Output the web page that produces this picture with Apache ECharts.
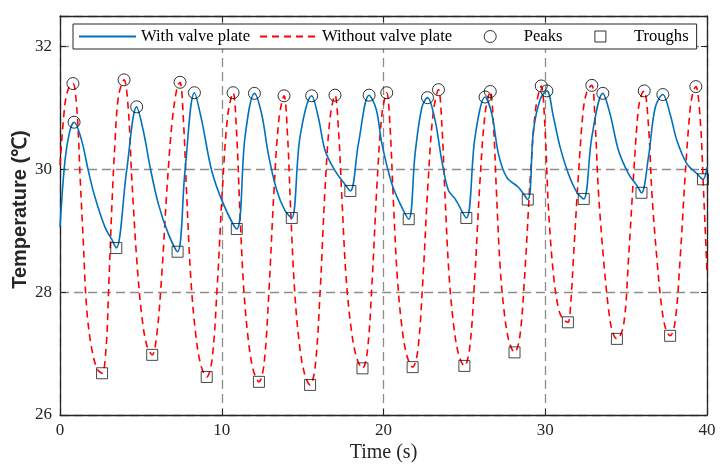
<!DOCTYPE html>
<html>
<head>
<meta charset="utf-8">
<script src="https://cdn.jsdelivr.net/npm/echarts/dist/echarts.min.js"></script>
<style>html,body{margin:0;padding:0;background:#fff}#c{width:727px;height:471px}</style>
</head>
<body>
<div id="c"></div>
<script>
// ---- data ----
const xTickValues = [0, 10, 20, 30, 40];
const yTickValues = [26, 28, 30, 32];
const seriesNames = ['With valve plate', 'Without valve plate', 'Peaks', 'Troughs'];

const withValve = [
  [0.00,29.06],[0.31,30.15],[0.60,30.62],[0.87,30.77],[1.34,30.47],[1.75,29.98],[2.16,29.55],[2.78,29.06],[3.20,28.86],[3.48,28.72],
  [4.12,29.98],[4.74,31.02],[5.15,30.63],[5.57,30.04],[6.08,29.44],[6.70,28.95],[7.27,28.66],
  [7.73,29.98],[8.31,31.25],[8.76,30.80],[9.38,29.98],[10.10,29.44],[10.93,29.03],
  [11.44,30.53],[12.02,31.24],[12.47,30.90],[12.88,30.25],[13.40,29.66],[13.91,29.33],[14.33,29.21],
  [14.84,30.53],[15.56,31.20],[15.97,30.85],[16.39,30.31],[17.00,29.98],[17.52,29.79],[17.95,29.65],
  [18.45,30.42],[19.11,31.21],[19.55,30.98],[19.90,30.42],[20.51,29.77],[21.03,29.44],[21.56,29.19],
  [21.95,30.25],[22.37,31.01],[22.72,31.17],[23.19,30.80],[23.60,30.15],[24.01,29.66],[24.43,29.52],[25.12,29.21],
  [25.66,30.53],[26.28,31.18],[26.70,30.90],[27.11,30.25],[27.62,29.87],[28.34,29.71],[28.92,29.51],
  [29.27,30.63],[29.70,31.15],[30.10,31.28],[30.51,30.85],[30.92,30.36],[31.43,29.93],[31.95,29.63],[32.38,29.52],
  [32.88,30.53],[33.56,31.24],[34.01,30.90],[34.53,30.31],[35.15,29.93],[35.66,29.74],[35.95,29.62],
  [36.38,30.20],[36.80,31.01],[37.27,31.22],[37.72,30.90],[38.14,30.47],[38.76,30.09],[39.38,29.93],[39.75,29.84],[40.00,30.04]
];

const withoutValve = [
  [0.00,30.07],[0.30,31.05],[0.55,31.34],[0.80,31.40],
  [1.05,30.95],[1.24,29.90],[1.44,28.82],[1.65,27.73],[1.96,27.08],[2.30,26.75],[2.60,26.68],
  [2.85,27.10],[3.00,28.00],[3.20,29.36],[3.40,30.44],[3.62,31.20],[3.96,31.46],
  [4.22,30.99],[4.43,29.90],[4.74,28.55],[5.05,27.63],[5.36,27.14],[5.70,26.98],
  [5.98,27.30],[6.29,28.28],[6.60,29.63],[6.91,30.72],[7.22,31.31],[7.42,31.42],
  [7.63,30.80],[7.83,29.60],[8.08,28.25],[8.38,27.34],[8.71,26.81],[9.07,26.62],
  [9.40,26.90],[9.72,28.10],[10.05,29.72],[10.37,30.88],[10.70,31.25],
  [10.91,30.64],[11.10,29.46],[11.34,28.14],[11.63,27.25],[11.95,26.73],[12.30,26.54],
  [12.61,26.82],[12.92,28.03],[13.23,29.66],[13.54,30.83],[13.85,31.20],
  [14.06,30.59],[14.25,29.41],[14.49,28.09],[14.78,27.20],[15.11,26.68],[15.46,26.49],
  [15.77,26.77],[16.08,28.00],[16.38,29.65],[16.69,30.83],[17.00,31.21],
  [17.22,30.63],[17.43,29.52],[17.68,28.27],[17.99,27.43],[18.33,26.94],[18.70,26.76],
  [19.00,27.03],[19.30,28.20],[19.60,29.77],[19.90,30.89],[20.20,31.25],
  [20.41,30.67],[20.60,29.55],[20.84,28.30],[21.13,27.45],[21.45,26.96],[21.80,26.78],
  [22.12,27.05],[22.44,28.23],[22.76,29.81],[23.08,30.94],[23.40,31.30],
  [23.61,30.72],[23.80,29.59],[24.04,28.33],[24.33,27.48],[24.65,26.98],[25.00,26.80],
  [25.32,27.07],[25.64,28.23],[25.96,29.79],[26.28,30.91],[26.60,31.27],
  [26.80,30.72],[26.98,29.65],[27.20,28.46],[27.47,27.66],[27.77,27.19],[28.10,27.02],
  [28.43,27.28],[28.76,28.41],[29.09,29.93],[29.42,31.01],[29.75,31.36],
  [29.98,30.70],[30.20,29.36],[30.51,28.28],[30.82,27.73],[31.10,27.56],[31.40,27.51],
  [31.57,27.80],[31.74,28.55],[32.05,29.90],[32.36,30.99],[32.62,31.30],[32.88,31.37],
  [33.09,30.72],[33.29,29.63],[33.60,28.55],[33.91,27.73],[34.15,27.36],[34.43,27.24],
  [34.84,27.46],[35.15,28.55],[35.46,29.90],[35.76,30.99],[35.98,31.24],[36.12,31.28],
  [36.38,30.72],[36.59,29.63],[36.90,28.55],[37.21,27.73],[37.47,27.38],[37.72,27.29],
  [38.03,27.52],[38.34,28.55],[38.65,29.90],[38.96,30.99],[39.15,31.27],[39.31,31.35],
  [39.58,30.82],[39.79,29.63],[40.00,28.33]
];

const peaks = [
  [0.80,31.40],[3.96,31.46],[7.42,31.42],[10.70,31.25],[13.85,31.20],[17.00,31.21],[20.20,31.25],
  [23.40,31.30],[26.60,31.27],[29.75,31.36],[32.88,31.37],[36.12,31.28],[39.31,31.35],
  [0.87,30.77],[4.74,31.02],[8.31,31.25],[12.02,31.24],[15.56,31.20],[19.11,31.21],[22.72,31.17],
  [26.28,31.18],[30.10,31.28],[33.56,31.24],[37.27,31.22]
];

const troughs = [
  [2.60,26.68],[5.70,26.98],[9.07,26.62],[12.30,26.54],[15.46,26.49],[18.70,26.76],[21.80,26.78],
  [25.00,26.80],[28.10,27.02],[31.40,27.51],[34.43,27.24],[37.72,27.29],
  [3.48,28.72],[7.27,28.66],[10.93,29.03],[14.33,29.21],[17.95,29.65],[21.56,29.19],[25.12,29.21],
  [28.92,29.51],[32.38,29.52],[35.95,29.62],[39.75,29.84]
];

// ---- chart ----
const serif = "'Liberation Serif','Times New Roman',serif";
const axisColor = '#262626';
const xMin = xTickValues[0], xMax = xTickValues[xTickValues.length - 1];
const yMin = yTickValues[0], yMax = 32.5;
// legend icons: symbol centred in a 57x12 box (corner points only set the box)
const circleIcon = 'path://M0,0L0,0M57,12L57,12M34.5,6A6,6,0,1,1,22.5,6A6,6,0,1,1,34.5,6Z';
const squareIcon = 'path://M0,0L0,0M57,12L57,12M23,0.5L34,0.5L34,11.5L23,11.5Z';

const chart = echarts.init(document.getElementById('c'), null, {renderer: 'canvas'});

const baseX = {
  type: 'value', min: xMin, max: xMax, interval: 10,
  axisLine: {show: true, onZero: false, lineStyle: {color: axisColor, width: 1.3}},
  axisTick: {show: true, inside: true, length: 6, lineStyle: {color: axisColor, width: 1}},
};
const baseY = {
  type: 'value', min: yMin, max: yMax, interval: 2,
  axisLine: {show: true, onZero: false, lineStyle: {color: axisColor, width: 1.3}},
  axisTick: {show: true, inside: true, length: 6, lineStyle: {color: axisColor, width: 1}},
};

const option = {
  animation: false,
  backgroundColor: '#fff',
  grid: {left: 60, right: 20, top: 16, bottom: 56, containLabel: false, outerBoundsMode: 'none'},
  legend: {
    left: 73, top: 24,
    padding: [4, 8, 4, 5],
    itemGap: 9, itemWidth: 57, itemHeight: 12,
    backgroundColor: '#fff', borderColor: axisColor, borderWidth: 1,
    textStyle: {fontFamily: serif, fontSize: 16.6, color: '#000'},
    z: 10,
    data: [
      {name: seriesNames[0], itemStyle: {opacity: 0}},
      {name: seriesNames[1], itemStyle: {opacity: 0}},
      {name: seriesNames[2], icon: circleIcon, itemStyle: {color: 'rgba(0,0,0,0)', borderColor: '#000', borderWidth: 1}},
      {name: seriesNames[3], icon: squareIcon, itemStyle: {color: 'rgba(0,0,0,0)', borderColor: '#000', borderWidth: 1}}
    ]
  },
  xAxis: [
    Object.assign({}, baseX, {
      position: 'bottom',
      axisLabel: {fontFamily: serif, fontSize: 17, color: axisColor, margin: 7},
      splitLine: {show: true, lineStyle: {color: '#8c8c8c', type: [9, 5], width: 1.3}},
      name: 'Time (s)', nameLocation: 'middle', nameGap: 28, nameMoveOverlap: false,
      nameTextStyle: {fontFamily: serif, fontSize: 20, color: axisColor}
    }),
    Object.assign({}, baseX, {
      position: 'top',
      axisLabel: {show: false},
      splitLine: {show: false}
    })
  ],
  yAxis: [
    Object.assign({}, baseY, {
      position: 'left',
      axisLabel: {fontFamily: serif, fontSize: 17, color: axisColor, margin: 8, showMaxLabel: false,
        formatter: v => (yTickValues.indexOf(v) >= 0 ? String(v) : '')},
      splitLine: {show: true, lineStyle: {color: '#8c8c8c', type: [9, 5], width: 1.3}},
      name: 'Temperature (℃)', nameLocation: 'middle', nameGap: 30, nameMoveOverlap: false,
      nameTextStyle: {fontFamily: "'Liberation Sans',Arial,sans-serif", fontWeight: 'bold', fontSize: 20,
        color: axisColor, padding: [0, 0, 0, 12]}
    }),
    Object.assign({}, baseY, {
      position: 'right',
      axisLabel: {show: false},
      splitLine: {show: false}
    })
  ],
  series: [
    {
      name: seriesNames[0], type: 'line', xAxisIndex: 0, yAxisIndex: 0,
      data: withValve, symbol: 'none', smooth: 0.35,
      lineStyle: {color: '#0072BD', width: 1.6}, itemStyle: {color: '#0072BD'}, z: 3
    },
    {
      name: seriesNames[1], type: 'line', xAxisIndex: 0, yAxisIndex: 0,
      data: withoutValve, symbol: 'none', smooth: 0.35,
      lineStyle: {color: '#FF0000', width: 1.6, type: [7, 5]}, itemStyle: {color: '#FF0000'}, z: 2
    },
    {
      name: seriesNames[2], type: 'scatter', xAxisIndex: 0, yAxisIndex: 0,
      data: peaks, symbol: 'circle', symbolSize: 12,
      itemStyle: {color: 'rgba(0,0,0,0)', borderColor: '#000', borderWidth: 1}, z: 4
    },
    {
      name: seriesNames[3], type: 'scatter', xAxisIndex: 0, yAxisIndex: 0,
      data: troughs, symbol: 'rect', symbolSize: 11,
      itemStyle: {color: 'rgba(0,0,0,0)', borderColor: '#1a1a1a', borderWidth: 1}, z: 4
    }
  ]
};
chart.setOption(option);
</script>
</body>
</html>
